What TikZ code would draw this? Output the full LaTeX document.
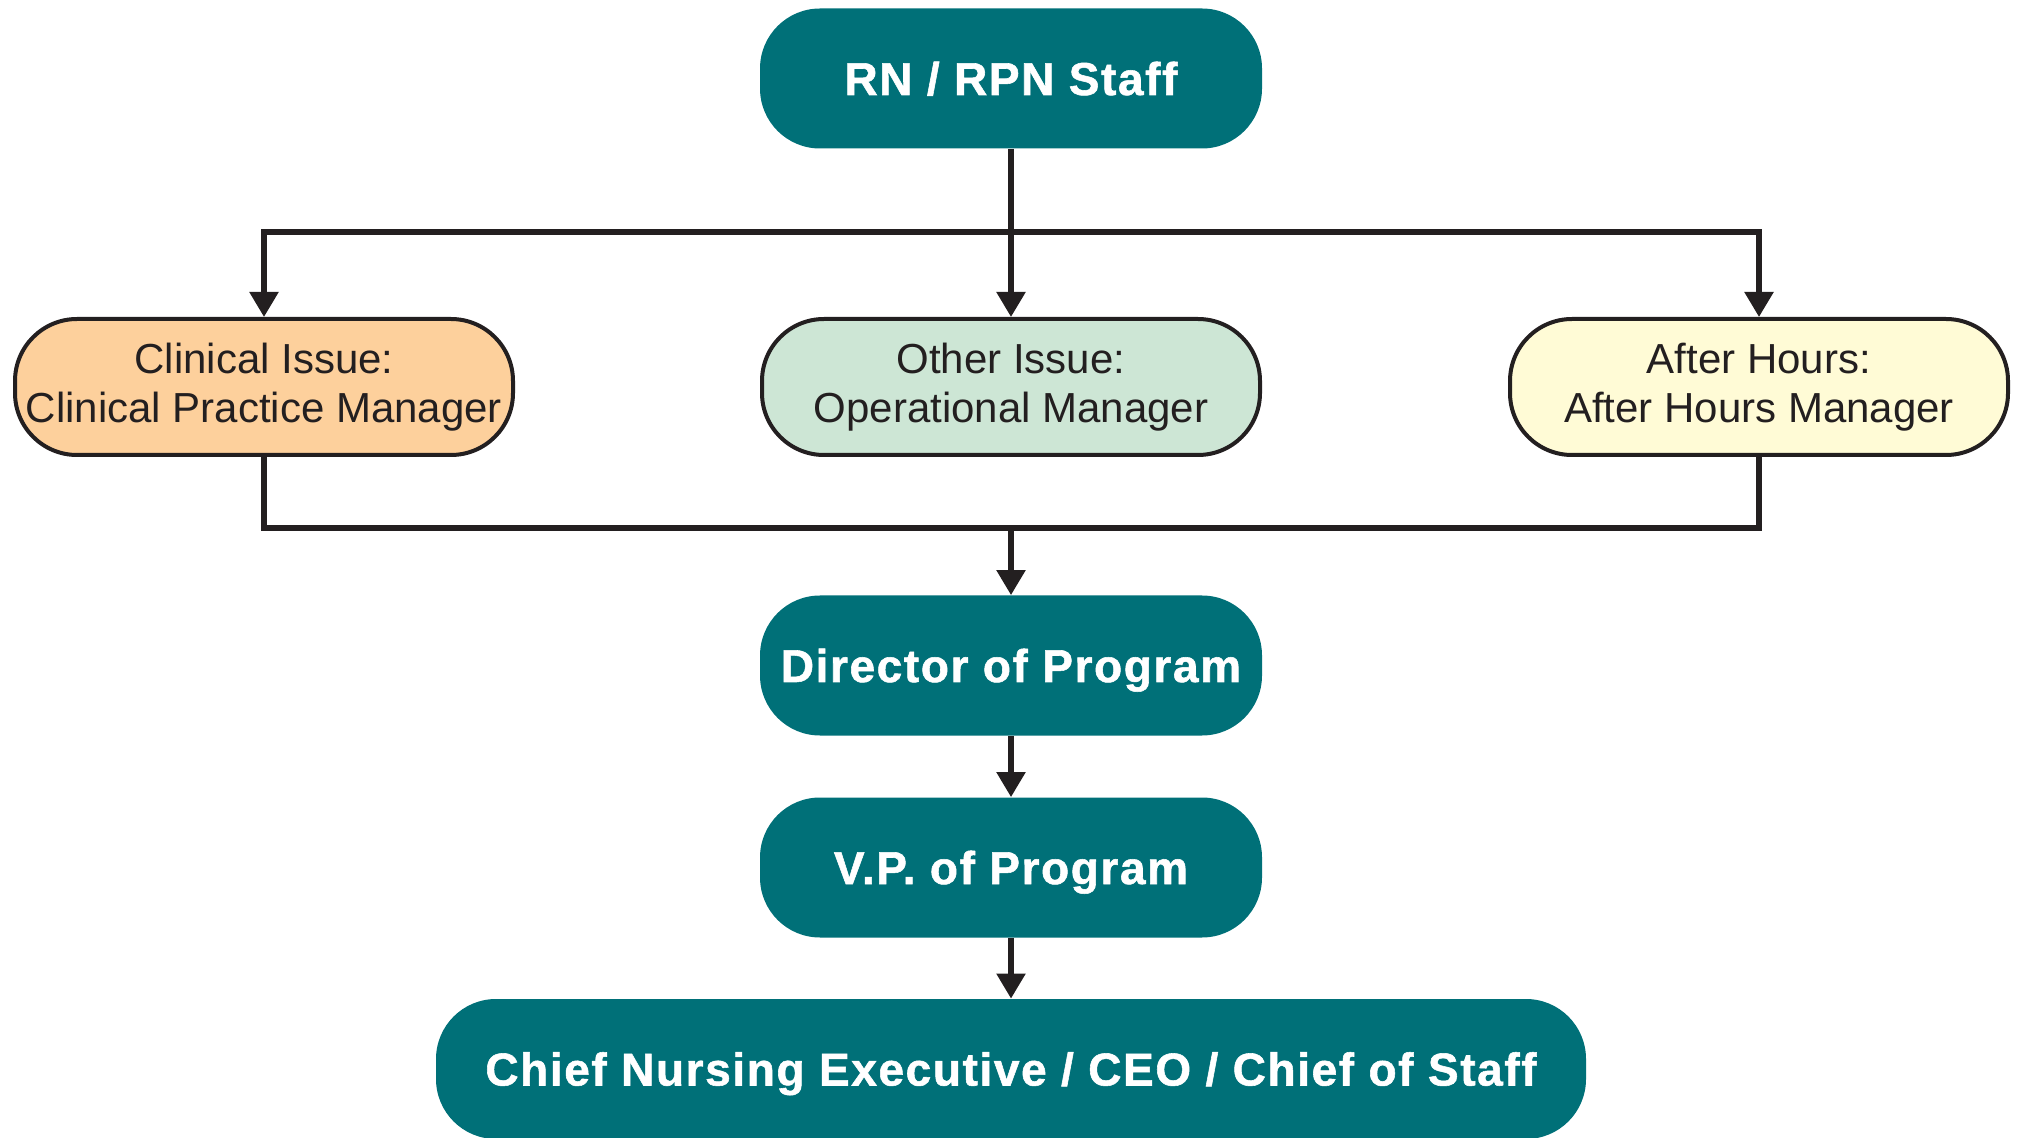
\documentclass[tikz,border=0pt]{standalone}
\usepackage{fontspec}
\setmainfont{Liberation Sans}
\newfontfamily\heavyfont[FakeBold=1.2,LetterSpace=3.5]{Liberation Sans Bold}
\usetikzlibrary{arrows.meta}
\definecolor{teal1}{RGB}{0,112,120}
\definecolor{peach}{RGB}{253,208,156}
\definecolor{mint}{RGB}{205,230,213}
\definecolor{cream}{RGB}{255,251,214}
\definecolor{ink}{RGB}{35,31,32}
\tikzset{
  tealbox/.style={fill=teal1, draw=none, rounded corners=30pt, minimum width=251pt, minimum height=70pt,
    text=white, font=\fontsize{23}{28}\heavyfont, inner sep=0pt, text height=16.5pt, text depth=0pt},
  issuebox/.style={draw=ink, line width=2pt, rounded corners=31pt, minimum width=249pt, minimum height=68pt,
    text=ink, font=\fontsize{21}{24.5}\selectfont, align=center, inner sep=0pt},
  conn/.style={draw=ink, line width=2.7pt},
  arr/.style={conn, -{Triangle[length=12.5pt,width=14pt]}}
}
\begin{document}
\begin{tikzpicture}[x=0.5pt,y=-0.5pt]
\useasboundingbox (0,0) rectangle (2019,1138);
\node[tealbox] (rn) at (1011,78.5) {RN / RPN Staff};
\node[issuebox, fill=peach] (left) at (264,387) {Clinical Issue:\\Clinical Practice Manager};
\node[issuebox, fill=mint] (mid) at (1011,387) {Other Issue:\\Operational Manager};
\node[issuebox, fill=cream] (right) at (1759,387) {After Hours:\\After Hours Manager};
\node[tealbox] (dir) at (1011,665.5) {Director of Program};
\node[tealbox] (vp) at (1011,867.5) {V.P. of Program};
\node[tealbox, minimum width=575pt] (chief) at (1011,1069) {Chief Nursing Executive / CEO / Chief of Staff};
\coordinate (bus1) at (1011,232);
\coordinate (bus2) at (1011,528);
\draw[arr] (rn) -- (mid);
\draw[arr] (bus1) -| (left);
\draw[arr] (bus1) -| (right);
\draw[conn] (left.south) |- (bus2) -| (right.south);
\draw[arr] (bus2) -- (dir);
\draw[arr] (dir) -- (vp);
\draw[arr] (vp) -- (chief);
\end{tikzpicture}
\end{document}
